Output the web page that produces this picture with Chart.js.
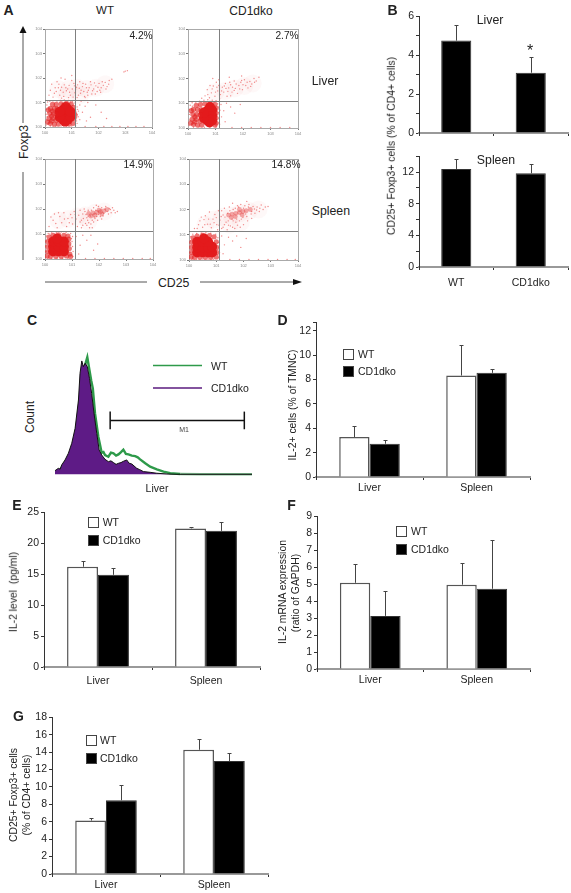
<!DOCTYPE html>
<html>
<head>
<meta charset="utf-8">
<script src="https://cdn.jsdelivr.net/npm/chart.js@4"></script>
<style>
body { margin: 0; background: #fff; font-family: "Liberation Sans", Arial, sans-serif; color: #222; }
#page { position: relative; width: 571px; height: 893px; overflow: hidden; }
#page canvas { position: absolute; }
.note { position: absolute; white-space: pre; line-height: 1; }
.box { position: absolute; width: 9px; height: 9px; border: 1px solid #444; }
svg { position: absolute; left: 0; top: 0; }
</style>
</head>
<body>
<div id="page"></div>
<script>
// Panel A - dot plots (log decades)
var decades = [0, 1, 2, 3, 4];
var wtLiverGate = [1.13, 1.12];
var koLiverGate = [1.11, 1.08];
var wtSpleenGate = [1.10, 1.14];
var koSpleenGate = [1.09, 1.13];

var wtLiverCore = [[.68,.3],[.85,.3],[.65,.5],[.85,.5],[.68,.7],[.85,.72],[.75,.22],[.78,.82],[.55,.4],[.95,.42],[.55,.62],[.95,.62]];
var wtLiverMid = [[.2,.15],[.35,.12],[.5,.12],[.9,.12],[1.05,.15],[.15,.35],[.3,.35],[.42,.28],[1.08,.35],[1.12,.5],[.18,.55],[.32,.55],[.42,.52],[1.08,.6],[.2,.75],[.35,.75],[.46,.74],[1.06,.8],[.28,.92],[.42,.92],[.6,.95],[.8,.97],[.98,.93],[.1,.2],[.12,.7],[.25,.25],[.25,.45],[.28,.65]];
var wtLiverHaze = [[.5,1.55],[.9,1.55],[1.2,1.6],[1.55,1.55],[1.9,1.6],[2.25,1.75],[.8,1.3],[1.3,1.3]];
var wtLiverDots = [[.15,1.3],[.3,1.22],[.42,1.45],[.55,1.3],[.62,1.62],[.7,1.25],[.8,1.48],[.9,1.7],[.95,1.3],[1.02,1.55],[1.08,1.78],[1.12,1.4],[1.18,1.62],[1.25,1.3],[1.3,1.85],[1.35,1.5],[1.4,1.65],[1.48,1.25],[1.52,1.75],[1.58,1.42],[1.65,1.6],[1.7,1.85],[1.75,1.35],[1.82,1.55],[1.9,1.68],[1.95,1.45],[2.02,1.78],[2.1,1.6],[2.18,1.7],[2.25,1.82],[2.32,1.65],[2.4,1.9],[2.5,1.95],[2.95,2.25],[3.0,2.28],[3.08,2.3],[.25,1.75],[.45,1.85],[.6,2.0],[.75,1.95],[.2,1.5],[1.0,1.9],[.85,1.55],[1.15,1.55],[.72,1.72],[.5,1.6],[1.22,1.72],[1.45,1.45],[1.6,1.3],[1.88,1.35],[2.05,1.5],
  [.35,1.38],[.58,1.5],[.78,1.6],[.92,1.42],[1.05,1.22],[1.1,1.68],[1.28,1.58],[1.33,1.38],[1.42,1.78],[1.55,1.6],[1.62,1.5],[1.72,1.72],[1.78,1.48],[1.85,1.8],[1.98,1.62],[2.08,1.42],[2.14,1.85],[2.28,1.55],[2.38,1.75],[.68,1.42],[.52,1.75],[.38,1.6],[1.2,1.2],[1.5,1.2],[.88,1.2],[1.0,2.1],[.62,1.18],
  [1.3,.9],[1.4,.6],[1.5,.85],[1.7,.4],[1.55,.25],[1.3,.3],[1.25,.65],[1.35,1.05],[1.9,.9],[2.1,.6],[2.3,.35],[1.2,.15],[1.6,1.0],[1.5,.02],[1.9,.02],[2.2,.02],[2.5,.02],[2.8,.02],[3.1,.02],[3.4,.02],[3.7,.02],
  [.04,.08],[.05,.3],[.04,.52],[.06,.72],[.07,.9],[.1,1.02],[.18,1.05],[.3,1.07],[.45,1.06],[.58,1.08],[.72,1.1],[.88,1.08],[1.02,1.05],[1.12,.98],[1.2,.82],[1.22,.72],[1.2,.5],[1.24,.42],[1.18,.25],[1.14,.06],[1.0,.04],[.8,.03],[.6,.04],[.4,.03],[.2,.04],[.1,.12],[.08,.42],[.1,.6],[.15,.82],[.3,.03],[.7,.04],[.95,1.02],[1.15,.7],[1.18,.38]];

var koLiverCore = [[.7,.3],[.88,.3],[.68,.5],[.88,.5],[.7,.7],[.88,.72],[.78,.22],[.8,.85],[.58,.4],[.58,.62]];
var koLiverMid = [[.2,.15],[.35,.12],[.5,.12],[.98,.12],[1.02,.2],[.15,.35],[.3,.35],[.44,.28],[1.02,.4],[.18,.55],[.32,.55],[.44,.52],[1.02,.6],[.2,.75],[.35,.75],[.48,.74],[1.02,.8],[.3,.92],[.45,.95],[.62,.98],[.8,1.0],[.98,.96],[.1,.2],[.12,.7],[.25,.25],[.25,.45]];
var koLiverHaze = [[1.0,1.45],[1.35,1.5],[1.7,1.6],[2.05,1.7],[2.35,1.8]];
var koLiverDots = [[.62,1.3],[.7,1.55],[.78,1.22],[.85,1.42],[.92,1.7],[.98,1.28],[1.03,1.85],[1.08,1.5],[1.12,1.95],[1.18,1.35],[1.25,1.65],[1.3,1.45],[1.36,1.8],[1.42,1.28],[1.48,1.62],[1.55,1.75],[1.6,1.45],[1.68,1.9],[1.72,1.6],[1.8,1.4],[1.85,1.72],[1.92,1.85],[1.98,1.55],[2.05,1.95],[2.1,1.72],[2.18,1.62],[2.25,1.88],[2.32,1.78],[2.4,2.0],[2.48,1.9],[2.58,2.05],[.5,1.2],[1.15,1.18],[1.55,1.3],[.9,2.0],[1.5,2.05],[1.95,2.1],
  [.72,1.35],[.88,1.58],[1.0,1.45],[1.12,1.72],[1.22,1.5],[1.32,1.7],[1.45,1.48],[1.52,1.85],[1.62,1.65],[1.75,1.78],[1.88,1.58],[2.0,1.75],[2.15,1.85],[2.28,1.68],[2.42,1.85],[1.38,1.6],[1.68,1.52],[1.95,1.92],[.8,1.72],[1.05,1.65],
  [1.2,.95],[1.3,.7],[1.4,1.0],[1.22,.45],[1.35,.25],[1.55,.85],[1.15,.15],[1.7,.6],[1.9,.95],[1.6,.02],[1.95,.02],[2.3,.02],[2.65,.02],[3.0,.02],[3.35,.02],[3.7,.02],
  [.04,.1],[.05,.32],[.05,.55],[.06,.75],[.08,.92],[.15,1.02],[.28,1.05],[.42,1.08],[.58,1.12],[.72,1.14],[.88,1.12],[1.02,1.1],[1.08,.98],[1.12,.85],[1.1,.62],[1.12,.4],[1.1,.2],[1.02,.04],[.8,.03],[.6,.03],[.4,.04],[.2,.03],[.1,.3],[.1,.62],[.16,.88],[.5,1.05],[.95,1.05],[1.16,.72]];

var wtSpleenCore = [[.3,.3],[.5,.3],[.7,.3],[.3,.5],[.5,.5],[.7,.5],[.3,.7],[.5,.7],[.7,.7],[.45,.82]];
var wtSpleenMid = [[.08,.12],[.2,.1],[.4,.1],[.6,.1],[.8,.12],[.92,.2],[.1,.3],[.9,.42],[.1,.5],[.88,.62],[.1,.7],[.88,.8],[.15,.88],[.3,.95],[.5,.97],[.7,.95],[.85,.92],[.95,.1]];
var wtSpleenHaze = [[.5,1.55],[.85,1.6],[1.2,1.7],[1.5,1.75],[1.85,1.85],[2.2,1.9],[1.6,1.5]];
var wtSpleenPeak = [[1.62,1.82],[1.78,1.84],[1.92,1.86],[2.05,1.88],[2.18,1.92],[1.85,1.75],[2.0,1.95],[2.3,1.98],[1.7,1.72],[2.1,1.8]];
var wtSpleenDots = [[.15,1.3],[.3,1.55],[.45,1.25],[.55,1.7],[.62,1.45],[.7,1.85],[.8,1.3],[.85,1.62],[.95,1.78],[1.02,1.4],[1.08,1.9],[1.15,1.6],[1.2,1.3],[1.25,1.75],[1.3,1.95],[1.35,1.55],[1.4,1.8],[1.45,2.0],[1.5,1.42],[1.55,1.65],[1.6,1.95],[1.65,1.25],[1.68,1.72],[1.75,1.55],[1.8,2.05],[1.85,1.62],[1.92,1.7],[1.98,2.1],[2.05,1.7],[2.1,2.05],[2.18,1.82],[2.25,2.1],[2.3,1.9],[2.38,2.02],[2.45,1.85],[2.55,1.95],[2.68,1.9],[1.4,1.35],[1.7,1.4],[1.9,2.15],[1.58,1.55],[1.12,1.78],[.35,1.8],
  [.22,1.68],[.4,1.42],[.5,1.85],[.72,1.6],[.9,1.45],[1.0,1.65],[1.3,1.48],[1.42,1.62],[1.48,1.9],[1.52,1.78],[1.6,1.7],[1.72,1.95],[1.82,1.68],[1.88,1.95],[1.98,1.78],[2.08,1.98],[2.15,1.72],[2.22,2.0],[2.35,1.8],[2.42,1.98],[2.5,2.05],[2.6,1.85],[1.55,1.35],[1.8,1.48],[1.95,1.55],[2.1,1.6],[1.35,1.25],[1.62,1.45],[1.75,1.25],
  [1.15,.9],[1.3,.55],[1.4,.95],[1.55,.75],[1.25,.2],[1.7,.95],[1.8,.35],[1.95,.6],[1.5,.02],[1.85,.02],[2.2,.02],[2.55,.02],[2.9,.02],[3.25,.02],[3.6,.02],[3.9,.02],
  [.03,.08],[.04,.3],[.03,.52],[.05,.72],[.05,.92],[.12,1.02],[.25,1.05],[.42,1.07],[.6,1.08],[.78,1.06],[.95,1.02],[1.02,.9],[1.0,.7],[1.02,.5],[1.04,.3],[1.03,.1],[.85,.03],[.65,.03],[.45,.04],[.25,.03],[.1,.03],[.95,.55],[.98,.82],[.18,1.0]];

var koSpleenCore = [[.3,.3],[.5,.3],[.7,.3],[.85,.3],[.3,.5],[.5,.5],[.7,.5],[.85,.52],[.3,.72],[.5,.72],[.7,.72],[.55,.85]];
var koSpleenMid = [[.08,.12],[.2,.1],[.4,.1],[.6,.1],[.8,.1],[1.0,.12],[.1,.3],[1.02,.3],[.1,.5],[1.02,.5],[.1,.7],[1.0,.72],[.15,.88],[.3,.95],[.5,.98],[.75,.97],[.92,.92]];
var koSpleenHaze = [[.6,1.4],[.9,1.6],[1.2,1.7],[1.55,1.75],[1.85,1.85],[2.2,1.95],[2.55,2.0],[1.5,1.4],[1.9,1.5]];
var koSpleenPeak = [[1.45,1.78],[1.58,1.82],[1.72,1.85],[1.85,1.88],[1.98,1.92],[1.7,1.72],[2.1,1.95],[2.25,2.0],[1.85,2.0],[1.55,1.68],[1.95,1.78]];
var koSpleenDots = [[.3,1.25],[.4,1.55],[.5,1.3],[.6,1.75],[.68,1.42],[.75,1.9],[.82,1.28],[.88,1.62],[.95,1.8],[1.02,1.4],[1.08,1.95],[1.14,1.58],[1.2,1.25],[1.25,1.78],[1.3,2.05],[1.36,1.5],[1.42,1.85],[1.48,2.1],[1.52,1.35],[1.58,1.62],[1.62,2.0],[1.68,1.25],[1.72,1.5],[1.78,2.15],[1.85,1.55],[1.9,2.2],[1.98,1.68],[2.05,2.15],[2.12,1.72],[2.2,2.2],[2.28,1.82],[2.35,2.12],[2.42,1.85],[2.5,2.1],[2.58,1.92],[2.65,2.18],[2.72,2.0],[2.8,2.1],[2.9,2.12],[1.4,1.2],[1.6,1.3],[2.0,1.4],[1.2,1.95],[.55,1.6],[1.05,1.2],
  [.2,1.25],[.35,1.4],[.45,1.7],[.58,1.4],[.72,1.62],[.78,1.42],[.92,1.48],[1.0,1.68],[1.1,1.38],[1.18,1.72],[1.3,1.4],[1.32,1.7],[1.44,1.55],[1.5,1.95],[1.62,1.55],[1.7,2.05],[1.75,1.62],[1.82,2.1],[1.92,1.62],[2.0,2.05],[2.08,1.82],[2.18,2.1],[2.3,1.92],[2.4,2.02],[2.48,1.98],[2.6,2.05],[1.25,1.3],[1.45,1.38],[1.78,1.38],[1.88,1.3],[2.15,1.55],[2.3,1.65],[1.6,2.25],[2.12,2.32],
  [1.2,.95],[1.3,.6],[1.45,.9],[1.6,.75],[1.25,.25],[1.75,.95],[1.9,.5],[2.1,.85],[1.5,.02],[1.85,.02],[2.2,.02],[2.55,.02],[2.9,.02],[3.25,.02],[3.6,.02],[3.9,.02],
  [.03,.1],[.04,.3],[.03,.55],[.05,.75],[.06,.92],[.14,1.02],[.28,1.05],[.45,1.07],[.62,1.08],[.8,1.06],[.98,1.02],[1.06,.88],[1.08,.7],[1.1,.5],[1.12,.3],[1.1,.1],[.9,.03],[.7,.03],[.5,.04],[.28,.03],[.1,.03]];

// Panel B
var bCategories = ["WT", "CD1dko"];
var bLiver = [4.75, 3.1];
var bLiverErr = [5.57, 3.9];
var bSpleen = [12.4, 11.85];
var bSpleenErr = [13.6, 13.07];
var bLiverTicks = [0, 1, 2, 3, 4, 5, 6];
var bLiverLabels = [0, 2, 4, 6];
var bSpleenTicks = [0, 2, 4, 6, 8, 10, 12, 14];
var bSpleenLabels = [0, 4, 8, 12];

// Panel C - histogram
var histWT = [[0,1.4],[2.5,3.7],[4,7],[5.1,9.4],[6.8,15],[8.5,19.4],[10.2,29.4],[11.9,52.2],[12.8,68],[13.6,83.5],[14.4,90],[15.3,93.5],[16.4,100],[17.5,88.9],[18.4,80],[19.2,73.5],[20.3,52.2],[22,32.2],[23.7,18.5],[24.6,19],[25.4,16.5],[27.1,15],[28.4,18.5],[29.7,17.9],[31,16],[32.2,17],[33.5,19],[34.7,21],[36,17.5],[37.3,17],[39,16],[40.7,15.5],[42,14.5],[43.2,12.8],[45.8,9.4],[48.3,6.5],[51.7,4.3],[55.1,2.3],[58.5,.9],[63.6,.3],[74,0],[100,0]];
var histKO = [[0,3.1],[1.7,5.1],[2.6,4.4],[3.4,8],[5.1,12.3],[6.8,18],[8.5,26.5],[10.2,39.3],[11.9,63.5],[12.7,86.3],[13.6,96.9],[14.4,92],[15.3,94.9],[16.4,92],[17.5,82],[18.6,69.2],[19.8,52.1],[21.2,35],[22.4,20.8],[23.7,16.5],[25.4,12.8],[27.1,10.8],[28.4,11.5],[29.7,10],[31,8.5],[32.2,9.4],[33.5,10],[34.7,11.1],[36.4,12.3],[37.6,9.5],[39,8.8],[41.5,5.1],[43,4],[44.9,2.3],[48.3,1.7],[51.7,.9],[56.8,.3],[61.9,0],[100,0]];
var m1Range = [28, 96.1];
var m1Level = 45.9;
var m1Cap = [38.5, 53.6];

// Panels D-G
var groups = ["Liver", "Spleen"];
var dWT = [3.28, 8.33];
var dWTErr = [4.2, 10.84];
var dKO = [2.73, 8.55];
var dKOErr = [3.0, 8.83];
var dTicks = [0, 2, 4, 6, 8, 10, 12, 12.7];
var dLabels = [0, 2, 4, 6, 8, 10, 12];

var eWT = [16.2, 22.4];
var eWTErr = [17.1, 22.7];
var eKO = [14.9, 22.0];
var eKOErr = [16.0, 23.5];
var eTicks = [0, 5, 10, 15, 20, 25];

var fWT = [5.08, 4.97];
var fWTErr = [6.16, 6.22];
var fKO = [3.13, 4.73];
var fKOErr = [4.58, 7.63];
var fTicks = [0, 1, 2, 3, 4, 5, 6, 7, 8, 9];

var gWT = [6.14, 14.27];
var gWTErr = [6.44, 15.53];
var gKO = [8.47, 12.97];
var gKOErr = [10.26, 13.9];
var gTicks = [0, 2, 4, 6, 8, 10, 12, 14, 16, 18];

Chart.defaults.font.family = '"Liberation Sans", Arial, sans-serif';
Chart.defaults.color = "#222";
Chart.defaults.animation = false;
Chart.defaults.responsive = false;
Chart.defaults.plugins.legend.display = false;
Chart.defaults.plugins.tooltip.enabled = false;

var page = document.getElementById("page");

function note(text, x, y, size, opts) {
	opts = opts || {};
	var d = document.createElement("div");
	d.className = "note";
	d.textContent = text;
	d.style.left = x + "px";
	d.style.top = y + "px";
	d.style.fontSize = size + "px";
	if (opts.bold) d.style.fontWeight = "bold";
	if (opts.color) d.style.color = opts.color;
	d.style.transform = "translate(" + (opts.left ? "0" : "-50%") + ",-50%)" + (opts.rot ? " rotate(-90deg)" : "");
	page.appendChild(d);
}

function addCanvas(left, top, w, h) {
	var c = document.createElement("canvas");
	c.width = w;
	c.height = h;
	c.style.left = left + "px";
	c.style.top = top + "px";
	page.appendChild(c);
	return c;
}

// error bars go from the bar top up to dataset.err
var errorBars = {
	id: "errorBars",
	afterDatasetsDraw: function(chart) {
		var ctx = chart.ctx;
		var y = chart.scales.y;
		chart.data.datasets.forEach(function(ds, i) {
			chart.getDatasetMeta(i).data.forEach(function(bar, k) {
				var top = Math.round(y.getPixelForValue(ds.err[k])) + 0.5;
				var px = Math.round(bar.x) + 0.5;
				ctx.save();
				ctx.strokeStyle = "#444";
				ctx.lineWidth = 1;
				ctx.beginPath();
				ctx.moveTo(px, top);
				ctx.lineTo(px, y.getPixelForValue(ds.data[k]));
				ctx.moveTo(px - 2, top);
				ctx.lineTo(px + 2, top);
				ctx.stroke();
				ctx.restore();
			});
		});
	}
};

function barDataset(label, values, err, fill) {
	return {
		label: label,
		data: values,
		err: err,
		backgroundColor: fill,
		borderColor: fill == "#000" ? "#333" : "#555",
		borderWidth: fill == "#000" ? 1 : 1.5,
		borderSkipped: "start"
	};
}

function barPanel(f, categories, datasets, yTicks, yLabels, catPct, barPct, labelPad) {
	var L = 36, R = 6, T = 8, H = 24;
	var c = addCanvas(f.x0 - L, f.top - T, f.x1 - f.x0 + L + R, f.y0 - f.top + T + H);
	datasets.forEach(function(ds) {
		ds.categoryPercentage = catPct;
		ds.barPercentage = barPct;
	});
	new Chart(c, {
		type: "bar",
		data: { labels: categories, datasets: datasets },
		plugins: [errorBars],
		options: {
			layout: { padding: { top: T, right: R, left: 0, bottom: 0 } },
			scales: {
				x: {
					grid: { drawOnChartArea: false, tickLength: 3, color: "#333" },
					border: { color: "#999", width: 2 },
					ticks: { font: { size: 10.5 }, padding: labelPad, maxRotation: 0,
						callback: function(v, i) { return f.noLabels ? "" : categories[i]; } },
					afterFit: function(s) { s.height = H; }
				},
				y: {
					min: yTicks[0],
					max: yTicks[yTicks.length - 1],
					grid: { drawOnChartArea: false, tickLength: 3, color: "#333" },
					border: { color: "#333", width: 1 },
					ticks: { font: { size: 10.5 }, padding: 2,
						callback: function(v) { return yLabels.indexOf(v) >= 0 ? String(v) : ""; } },
					afterBuildTicks: function(s) { s.ticks = yTicks.map(function(v) { return { value: v }; }); },
					afterFit: function(s) { s.width = L; }
				}
			}
		}
	});
}

function barLegend(x, y1, y2, textX, texts) {
	[[y1, "#fff"], [y2, "#000"]].forEach(function(row, i) {
		var b = document.createElement("div");
		b.className = "box";
		b.style.left = x + "px";
		b.style.top = row[0] + "px";
		b.style.background = row[1];
		page.appendChild(b);
		note(texts[i], textX, row[0] + 5, 10.5, { left: true });
	});
}

// frame and quadrant gates of a dot plot
var gates = {
	id: "gates",
	beforeDatasetsDraw: function(chart) {
		var a = chart.chartArea, ctx = chart.ctx;
		ctx.save();
		ctx.strokeStyle = "#aaa";
		ctx.lineWidth = 1;
		ctx.strokeRect(a.left + 0.5, a.top + 0.5, a.width, a.height);
		ctx.restore();
	},
	afterDatasetsDraw: function(chart) {
		var a = chart.chartArea, ctx = chart.ctx;
		var g = chart.options.gate;
		var gx = Math.round(chart.scales.x.getPixelForValue(g[0])) + 0.5;
		var gy = Math.round(chart.scales.y.getPixelForValue(g[1])) + 0.5;
		ctx.save();
		ctx.strokeStyle = "#808080";
		ctx.lineWidth = 1;
		ctx.beginPath();
		ctx.moveTo(gx, a.top);
		ctx.lineTo(gx, a.bottom);
		ctx.moveTo(a.left, gy);
		ctx.lineTo(a.right, gy);
		ctx.stroke();
		ctx.restore();
	}
};

function dotPanel(f, gate, haze, dots, mid, core, peak) {
	var L = 14, R = 4, T = 4, H = 10;
	var c = addCanvas(f.x0 - L, f.top - T, f.x1 - f.x0 + L + R, f.y0 - f.top + T + H);
	var sets = [
		{ data: haze, pointRadius: 9, pointBackgroundColor: "rgba(240,110,110,0.05)" },
		{ data: dots, pointRadius: 0.7, pointBackgroundColor: "rgba(232,60,60,0.6)" }
	];
	if (peak) sets.push({ data: peak, pointRadius: 2.4, pointBackgroundColor: "rgba(226,40,40,0.4)" });
	sets.push({ data: mid, pointRadius: 2.6, pointBackgroundColor: "rgba(226,30,30,0.62)" });
	sets.push({ data: core, pointRadius: 5, pointBackgroundColor: "#e31a1c" });
	sets.forEach(function(s) { s.pointBorderWidth = 0; });
	function axis(size) {
		return {
			type: "linear", min: 0, max: 4,
			afterBuildTicks: function(s) { s.ticks = decades.map(function(v) { return { value: v }; }); },
			grid: { drawOnChartArea: false, tickLength: 2, color: "#777" },
			border: { color: "#aaa" },
			ticks: { font: { size: 4 }, color: "#888", padding: 1, maxRotation: 0,
				callback: function(v) { return "10" + v; } },
			afterFit: size
		};
	}
	new Chart(c, {
		type: "scatter",
		data: { datasets: sets },
		plugins: [gates],
		options: {
			gate: gate,
			layout: { padding: { top: T, right: R, left: 0, bottom: 0 } },
			scales: {
				x: axis(function(s) { s.height = H; }),
				y: axis(function(s) { s.width = L; })
			}
		}
	});
}

// Panel A
dotPanel({ x0: 45, x1: 157, top: 24, y0: 127 }, wtLiverGate, wtLiverHaze, wtLiverDots, wtLiverMid, wtLiverCore);
dotPanel({ x0: 188, x1: 303, top: 24, y0: 128 }, koLiverGate, koLiverHaze, koLiverDots, koLiverMid, koLiverCore);
dotPanel({ x0: 45, x1: 158, top: 154, y0: 259 }, wtSpleenGate, wtSpleenHaze, wtSpleenDots, wtSpleenMid, wtSpleenCore, wtSpleenPeak);
dotPanel({ x0: 189, x1: 303, top: 154, y0: 260 }, koSpleenGate, koSpleenHaze, koSpleenDots, koSpleenMid, koSpleenCore, koSpleenPeak);

note("A", 8.5, 10, 14, { bold: true });
note("WT", 105, 11, 11.5);
note("CD1dko", 251, 11, 12);
note("4.2%", 141, 36, 10.2);
note("2.7%", 287, 36, 10.2);
note("14.9%", 138, 165, 10.2);
note("14.8%", 286, 165, 10.2);
note("Liver", 311.7, 81, 12.3, { left: true });
note("Spleen", 311.7, 211, 12.3, { left: true });
note("Foxp3", 23.5, 142, 12.3, { rot: true });
note("CD25", 173.7, 283, 12.3);

// Panel B
barPanel({ x0: 419, x1: 568, top: 16, y0: 133, noLabels: true }, bCategories,
	[barDataset("Liver", bLiver, bLiverErr, "#000")], bLiverTicks, bLiverLabels, 1, 0.404, 2);
barPanel({ x0: 419, x1: 568, top: 156, y0: 267 }, bCategories,
	[barDataset("Spleen", bSpleen, bSpleenErr, "#000")], bSpleenTicks, bSpleenLabels, 1, 0.404, 7);
note("B", 392.5, 10, 14, { bold: true });
note("Liver", 490, 20, 12.3);
note("Spleen", 496, 160, 12.3);
note("*", 530, 51, 16);
note("CD25+ Foxp3+ cells (% of CD4+ cells)", 391.7, 146, 10.4, { rot: true });

// Panel C
var histCanvas = addCanvas(55, 347, 197, 130);
new Chart(histCanvas, {
	type: "line",
	data: {
		datasets: [
			{ label: "CD1dko", data: histKO, borderColor: "#111", borderWidth: 1, backgroundColor: "#5e1b86", fill: "origin", pointRadius: 0, tension: 0 },
			{ label: "WT", data: histWT, borderColor: "#2e9a4a", borderWidth: 2.4, fill: false, pointRadius: 0, tension: 0,
				segment: { borderColor: function(s) { return s.p0.parsed.x > 60 ? "#7fbf8f" : undefined; } } },
			{ label: "M1", data: [[m1Range[0], m1Level], [m1Range[1], m1Level]], borderColor: "#111", borderWidth: 1.5, pointRadius: 0 },
			{ label: "M1 start", data: [[m1Range[0], m1Cap[0]], [m1Range[0], m1Cap[1]]], borderColor: "#111", borderWidth: 1.5, pointRadius: 0 },
			{ label: "M1 end", data: [[m1Range[1], m1Cap[0]], [m1Range[1], m1Cap[1]]], borderColor: "#111", borderWidth: 1.5, pointRadius: 0 }
		]
	},
	options: {
		layout: { padding: 0 },
		scales: {
			x: { type: "linear", min: 0, max: 100, display: false },
			y: { min: -2.3, max: 108.8, display: false }
		}
	}
});
note("C", 32, 320, 14, { bold: true });
note("Count", 30, 417, 12, { rot: true });
note("WT", 211, 365.5, 10.5, { left: true });
note("CD1dko", 211, 388, 10.5, { left: true });
note("M1", 184, 429, 7, { color: "#444" });
note("Liver", 157, 488, 10.5);

// Panel D
barPanel({ x0: 316, x1: 530, top: 322, y0: 477 }, groups,
	[barDataset("WT", dWT, dWTErr, "#fff"), barDataset("CD1dko", dKO, dKOErr, "#000")], dTicks, dLabels, 0.566, 1, 2);
barLegend(343, 349, 366, 358, ["WT", "CD1dko"]);
note("D", 282.5, 320, 14, { bold: true });
note("IL-2+ cells (% of TMNC)", 292.5, 405, 10.4, { rot: true });

// Panel E
barPanel({ x0: 44, x1: 260, top: 512, y0: 667 }, groups,
	[barDataset("WT", eWT, eWTErr, "#fff"), barDataset("CD1dko", eKO, eKOErr, "#000")], eTicks, eTicks, 0.573, 1, 4.5);
barLegend(88, 517, 535, 102.7, ["WT", "CD1dko"]);
note("E", 17, 505, 14, { bold: true });
note("IL-2 level  (pg/ml)", 13.5, 592, 10.4, { rot: true });

// Panel F
barPanel({ x0: 317, x1: 530, top: 516, y0: 669 }, groups,
	[barDataset("WT", fWT, fWTErr, "#fff"), barDataset("CD1dko", fKO, fKOErr, "#000")], fTicks, fTicks, 0.57, 1, 2);
barLegend(396, 526, 544, 411, ["WT", "CD1dko"]);
note("F", 291.5, 505, 14, { bold: true });
note("IL-2 mRNA expression", 283, 592, 10.4, { rot: true });
note("(ratio of GAPDH)", 296, 592.5, 10.4, { rot: true });

// Panel G
barPanel({ x0: 52, x1: 268, top: 717, y0: 874 }, groups,
	[barDataset("WT", gWT, gWTErr, "#fff"), barDataset("CD1dko", gKO, gKOErr, "#000")], gTicks, gTicks, 0.57, 1, 1.5);
barLegend(86, 735, 753, 100, ["WT", "CD1dko"]);
note("G", 18.5, 716, 14, { bold: true });
note("CD25+ Foxp3+ cells", 13.5, 795, 10.4, { rot: true });
note("(% of CD4+ cells)", 27, 795, 10.4, { rot: true });

// arrows of panel A and the line keys of panel C
page.insertAdjacentHTML("beforeend",
	'<svg width="571" height="893">' +
	'<g stroke="#555" stroke-width="1" fill="none">' +
	'<path d="M23 260V172M23 123V30M45 282H147M200 282H296"/></g>' +
	'<path d="M23 26l-3.5 7h7z" fill="#111"/>' +
	'<path d="M302 282l-9 -3v6z" fill="#111"/>' +
	'<path d="M153 365.5H202" stroke="#2e9a4a" stroke-width="1.6"/>' +
	'<path d="M153 388H202" stroke="#5a1a7e" stroke-width="1.6"/>' +
	'</svg>');
</script>
</body>
</html>
